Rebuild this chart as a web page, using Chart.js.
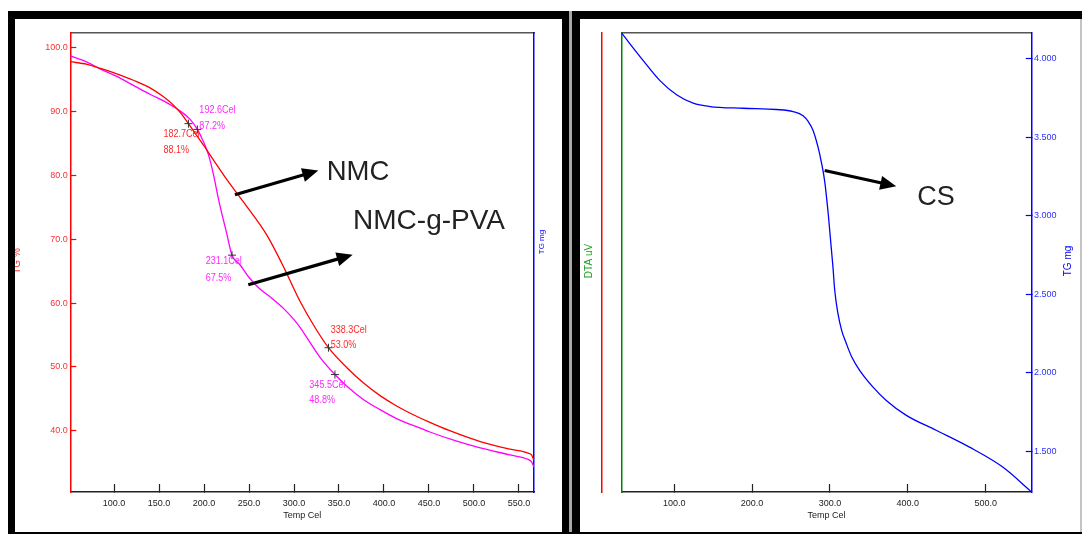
<!DOCTYPE html>
<html><head><meta charset="utf-8">
<script src="https://cdn.jsdelivr.net/npm/chart.js@4.4.1/dist/chart.umd.min.js"></script>
<style>
html,body{margin:0;padding:0;background:#fff;}
#wrap{position:relative;width:1082px;height:534px;overflow:hidden;background:#fff;}
.blk{position:absolute;background:#000;}
canvas{position:absolute;}
</style></head><body>
<div id="wrap">
<canvas id="c1" width="547" height="513" style="left:15px;top:19px;width:547px;height:513px"></canvas>
<canvas id="c2" width="500" height="513" style="left:580px;top:19px;width:500px;height:513px"></canvas>
<div class="blk" style="left:8px;top:11px;width:1074px;height:8px"></div>
<div class="blk" style="left:8px;top:11px;width:7px;height:523px"></div>
<div class="blk" style="left:562px;top:11px;width:18px;height:523px"></div>
<div style="position:absolute;left:569px;top:11px;width:3px;height:523px;background:#a8a8a8"></div>
<div style="position:absolute;left:1080px;top:19px;width:2px;height:515px;background:#c4c4c4"></div>
<div class="blk" style="left:8px;top:532px;width:1074px;height:2px"></div>
</div>
<script>
// ---------------- data ----------------
const nmcTemp = [51.4, 70, 85, 103, 121.5, 140, 155, 166, 175, 182.7, 190, 199, 210, 225, 245, 270, 290, 300, 307, 321.5, 338.3, 358.5, 377, 395.6, 415, 432.6, 451, 473, 507, 540, 560, 564, 566.7];
const nmcMass = [97.8, 97.4, 96.75, 95.9, 94.9, 93.7, 92.3, 91.0, 89.6, 88.1, 86.6, 84.8, 82.5, 79.4, 75.6, 70.6, 65.2, 62.2, 60.2, 56.6, 53.0, 49.9, 47.5, 45.5, 43.8, 42.5, 41.3, 40.0, 38.3, 37.1, 36.5, 36.2, 35.3];
const pvaTemp = [51.4, 70, 85, 103, 121.5, 140, 158.6, 173.3, 184.4, 192.6, 199, 205, 210.4, 215.9, 220.5, 225.2, 231.1, 240, 250, 262.2, 275, 288, 300, 306.7, 317, 328.9, 345.5, 358.5, 377, 395.6, 414, 444, 451, 480, 507, 540, 560, 564, 566.7];
const pvaMass = [98.7, 97.75, 96.65, 95.5, 94.1, 92.7, 91.4, 90.1, 88.8, 87.2, 85.4, 83.2, 80.2, 76.4, 73.6, 70.9, 67.5, 66.0, 64.0, 62.2, 60.8, 59.2, 57.4, 56.2, 54.0, 51.5, 48.8, 47.0, 44.9, 43.3, 41.9, 40.2, 39.8, 38.4, 37.3, 36.2, 35.5, 35.1, 34.3];
const csTemp = [32.1, 60.3, 81.7, 103.1, 124.4, 145.8, 188.5, 231.3, 252.7, 265.5, 272, 278.3, 284.7, 289, 293.2, 298, 303.9, 306.1, 310.3, 315, 321.1, 328, 338.1, 355, 372.3, 398, 436.4, 479.1, 521.8, 559];
const csMass = [4.165, 3.987, 3.86, 3.77, 3.716, 3.695, 3.684, 3.676, 3.663, 3.637, 3.60, 3.542, 3.436, 3.34, 3.22, 3.0, 2.67, 2.525, 2.376, 2.27, 2.185, 2.10, 2.015, 1.91, 1.824, 1.729, 1.634, 1.527, 1.40, 1.241];
const markerTemp = [182.7, 192.6, 231.1, 338.3, 345.5];
const markerMass = [88.1, 87.2, 67.5, 53.0, 48.8];
const markerSeries = ['NMC', 'NMC-g-PVA', 'NMC-g-PVA', 'NMC', 'NMC-g-PVA'];
const leftXTicks = [100, 150, 200, 250, 300, 350, 400, 450, 500, 550];
const leftYTicks = [40, 50, 60, 70, 80, 90, 100];
const rightXTicks = [100, 200, 300, 400, 500];
const rightYTicks = [1.5, 2.0, 2.5, 3.0, 3.5, 4.0];
const leftXRange = [51.4, 566.7];
const leftYRange = [30.4, 102.3];
const rightXRange = [32.1, 559];
const rightYRange = [1.241, 4.165];

// ---------------- styling / layout ----------------
const SANS = "'Liberation Sans',Arial,sans-serif";
const TICKF = 9;
const RED = '#ff0000', MAG = '#ff00ff', BLUE = '#0000ff', GREEN = '#008000';
const TEXT_COL = {'NMC': '#ff2a2a', 'NMC-g-PVA': '#ff2aff'};
const LINE_COL = {'NMC': RED, 'NMC-g-PVA': MAG};
const LABEL_OFFSETS = [[-25, 10.5, 26], [2, -19.5, -3.5], [-26.3, 6.3, 22.6], [2.2, -18, -3], [-25.6, 10.8, 25.8]];

function pts(xs, ys) { return xs.map((x, i) => ({x: x, y: ys[i]})); }

function arrow(ctx, x1, y1, x2, y2) {
  const ang = Math.atan2(y2 - y1, x2 - x1);
  const hl = 16, hw = 7;
  const bx = x2 - hl * Math.cos(ang), by = y2 - hl * Math.sin(ang);
  ctx.beginPath(); ctx.moveTo(x1, y1); ctx.lineTo(bx + Math.cos(ang), by + Math.sin(ang));
  ctx.lineWidth = 3.2; ctx.strokeStyle = '#000'; ctx.lineCap = 'butt'; ctx.stroke();
  ctx.beginPath(); ctx.moveTo(x2, y2);
  ctx.lineTo(bx + hw * Math.sin(ang), by - hw * Math.cos(ang));
  ctx.lineTo(bx - hw * Math.sin(ang), by + hw * Math.cos(ang));
  ctx.closePath(); ctx.fillStyle = '#000'; ctx.fill();
}
function rotText(ctx, txt, x, y, font, color, baseline) {
  ctx.save(); ctx.translate(x, y); ctx.rotate(-Math.PI / 2);
  ctx.font = font; ctx.fillStyle = color; ctx.textAlign = 'center'; ctx.textBaseline = baseline || 'middle';
  ctx.fillText(txt, 0, 0); ctx.restore();
}
function narrowText(ctx, txt, x, y) {
  ctx.save(); ctx.translate(x, y); ctx.scale(0.82, 1); ctx.fillText(txt, 0, 0); ctx.restore();
}

function makeAnnot(cfg) {
  return {
    id: 'annot',
    afterDraw(chart) {
      const ctx = chart.ctx;
      const xs = chart.scales.x, ys = chart.scales[cfg.yId];
      ctx.save();
      if (cfg.markers) {
        ctx.font = '11px ' + SANS; ctx.textAlign = 'left'; ctx.textBaseline = 'middle';
        markerTemp.forEach((t, i) => {
          const px = xs.getPixelForValue(t), py = ys.getPixelForValue(markerMass[i]);
          const o = LABEL_OFFSETS[i];
          ctx.fillStyle = TEXT_COL[markerSeries[i]];
          narrowText(ctx, t.toFixed(1) + 'Cel', px + o[0], py + o[1]);
          narrowText(ctx, markerMass[i].toFixed(1) + '%', px + o[0], py + o[2]);
        });
      }
      cfg.arrows.forEach(a => arrow(ctx, xs.getPixelForValue(a[0]), ys.getPixelForValue(a[1]), xs.getPixelForValue(a[2]), ys.getPixelForValue(a[3])));
      ctx.fillStyle = '#222'; ctx.textAlign = 'left'; ctx.textBaseline = 'middle';
      cfg.texts.forEach(t => { ctx.font = t[3] + 'px ' + SANS; ctx.fillText(t[0], xs.getPixelForValue(t[1]), ys.getPixelForValue(t[2])); });
      cfg.rot.forEach(r => rotText(ctx, r[0], r[1], r[2], r[3], r[4], r[5]));
      ctx.restore();
    }
  };
}

function xScale(range, ticks, h) {
  return {
    type: 'linear', position: 'bottom', min: range[0], max: range[1],
    afterBuildTicks: s => { s.ticks = ticks.map(v => ({value: v})); },
    afterFit: s => { s.height = h; },
    ticks: {color: '#222', font: {family: SANS, size: TICKF}, padding: 13.8, maxRotation: 0, autoSkip: false, callback: v => Number(v).toFixed(1)},
    grid: {drawOnChartArea: false, drawTicks: true, tickLength: -8, tickColor: '#222', tickWidth: 1.2},
    border: {color: '#222', width: 1.6},
    title: {display: true, text: 'Temp Cel', color: '#222', font: {family: SANS, size: 9}, padding: {top: 0, bottom: 11.5}}
  };
}
function topScale(range) {
  return {
    type: 'linear', position: 'top', min: range[0], max: range[1],
    afterFit: s => { s.height = 13; },
    ticks: {display: false}, grid: {display: false, drawTicks: false},
    border: {color: '#555', width: 1.6}
  };
}
function dummyY(pos, color, w, weight) {
  return {
    type: 'linear', position: pos, min: 0, max: 1, weight: weight || 0,
    afterFit: s => { s.width = w; },
    ticks: {display: false}, grid: {display: false, drawTicks: false},
    border: {color: color, width: 1.5}
  };
}
const common = {
  responsive: false, maintainAspectRatio: false, animation: false, devicePixelRatio: 1, events: [],
  layout: {padding: 0, autoPadding: false},
  plugins: {legend: {display: false}, tooltip: {enabled: false}}
};
const lineStyle = {showLine: true, borderWidth: 1.3, pointRadius: 0, cubicInterpolationMode: 'monotone'};

// ---------------- left chart ----------------
new Chart(document.getElementById('c1'), {
  type: 'scatter',
  data: {datasets: [
    {label: 'markers', data: pts(markerTemp, markerMass), yAxisID: 'y', pointStyle: 'cross', pointRadius: 4, borderColor: '#333', borderWidth: 1, showLine: false, order: 0},
    Object.assign({label: 'NMC', data: pts(nmcTemp, nmcMass), yAxisID: 'y', borderColor: LINE_COL['NMC'], order: 1}, lineStyle),
    Object.assign({label: 'NMC-g-PVA', data: pts(pvaTemp, pvaMass), yAxisID: 'y', borderColor: LINE_COL['NMC-g-PVA'], order: 2}, lineStyle)
  ]},
  options: Object.assign({}, common, {
    scales: {
      x: xScale(leftXRange, leftXTicks, 40),
      xTop: topScale(leftXRange),
      y: {
        type: 'linear', position: 'left', min: leftYRange[0], max: leftYRange[1],
        afterBuildTicks: s => { s.ticks = leftYTicks.map(v => ({value: v})); },
        afterFit: s => { s.width = 55.3; },
        ticks: {color: '#ff3030', font: {family: SANS, size: TICKF}, padding: 8.6, autoSkip: false, callback: v => Number(v).toFixed(1)},
        grid: {drawOnChartArea: false, drawTicks: true, tickLength: -6, tickColor: RED, tickWidth: 1.2},
        border: {color: RED, width: 1.5}
      },
      yTG: dummyY('right', BLUE, 28)
    }
  }),
  plugins: [makeAnnot({
    yId: 'y', markers: true,
    arrows: [[234.4, 76.95, 327, 80.75], [249.2, 62.87, 365.2, 67.56]],
    texts: [['NMC', 336.3, 80.5, 27.5], ['NMC-g-PVA', 365.6, 72.8, 28]],
    rot: [['TG %', 4.5, 242, '10px ' + SANS, '#ff3030', 'alphabetic'], ['TG mg', 526.7, 223, '8px ' + SANS, BLUE, 'middle']]
  })]
});

// ---------------- right chart ----------------
new Chart(document.getElementById('c2'), {
  type: 'scatter',
  data: {datasets: [
    Object.assign({label: 'CS', data: pts(csTemp, csMass), yAxisID: 'yTG', borderColor: BLUE}, lineStyle)
  ]},
  options: Object.assign({}, common, {
    scales: {
      x: xScale(rightXRange, rightXTicks, 40),
      xTop: topScale(rightXRange),
      yDTA: dummyY('left', GREEN, 20, 0),
      yRed: dummyY('left', RED, 21.3, 1),
      yTG: {
        type: 'linear', position: 'right', min: rightYRange[0], max: rightYRange[1],
        afterBuildTicks: s => { s.ticks = rightYTicks.map(v => ({value: v})); },
        afterFit: s => { s.width = 48.3; },
        ticks: {color: '#3030ff', font: {family: SANS, size: TICKF}, padding: 8.3, autoSkip: false, callback: v => Number(v).toFixed(3)},
        grid: {drawOnChartArea: false, drawTicks: true, tickLength: -6, tickColor: BLUE, tickWidth: 1.2},
        border: {color: BLUE, width: 1.5}
      }
    }
  }),
  plugins: [makeAnnot({
    yId: 'yTG', markers: false,
    arrows: [[293.2, 3.2875, 385.1, 3.1877]],
    texts: [['CS', 412.1, 3.118, 27]],
    rot: [['DTA uV', 9.3, 242, '10px ' + SANS, '#20a020', 'middle'], ['TG mg', 488.3, 242, '10px ' + SANS, BLUE, 'middle']]
  })]
});
</script>
</body></html>
